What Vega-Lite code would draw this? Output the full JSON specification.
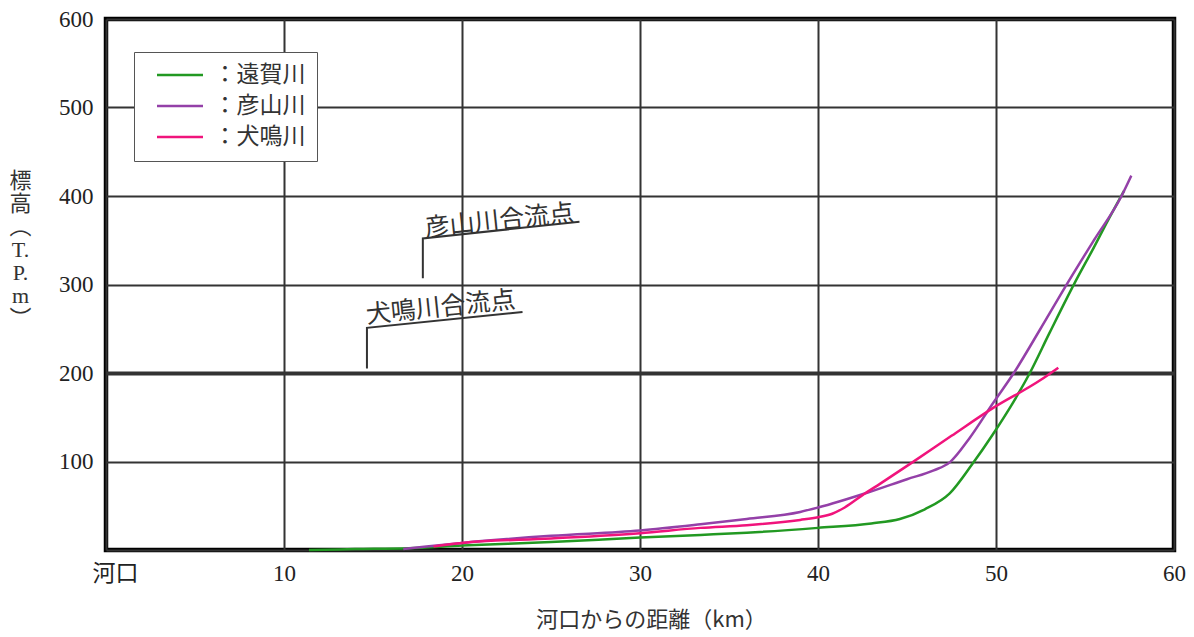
{
  "$schema": "https://vega.github.io/schema/vega-lite/v6.json",
  "width": 1068,
  "height": 531,
  "autosize": {"type": "none"},
  "padding": {"left": 106, "top": 19, "right": 20, "bottom": 87},
  "background": "white",
  "config": {
    "view": {"stroke": "black", "strokeWidth": 4.5},
    "font": "Liberation Serif, Noto Sans CJK JP"
  },
  "datasets": {
    "rivers": [
      {"river": "遠賀川", "km": 11.4, "elev": 0},
      {"river": "遠賀川", "km": 14, "elev": 1},
      {"river": "遠賀川", "km": 17, "elev": 2},
      {"river": "遠賀川", "km": 20, "elev": 5},
      {"river": "遠賀川", "km": 25, "elev": 9},
      {"river": "遠賀川", "km": 30, "elev": 14},
      {"river": "遠賀川", "km": 33.4, "elev": 17},
      {"river": "遠賀川", "km": 36, "elev": 19.5},
      {"river": "遠賀川", "km": 40, "elev": 25},
      {"river": "遠賀川", "km": 43, "elev": 30},
      {"river": "遠賀川", "km": 44.6, "elev": 35},
      {"river": "遠賀川", "km": 46, "elev": 46},
      {"river": "遠賀川", "km": 47.4, "elev": 64},
      {"river": "遠賀川", "km": 48.7, "elev": 98},
      {"river": "遠賀川", "km": 49.8, "elev": 130},
      {"river": "遠賀川", "km": 51, "elev": 168},
      {"river": "遠賀川", "km": 51.9, "elev": 200},
      {"river": "遠賀川", "km": 53, "elev": 245},
      {"river": "遠賀川", "km": 54.4, "elev": 301},
      {"river": "遠賀川", "km": 55.5, "elev": 342},
      {"river": "遠賀川", "km": 56.2, "elev": 369},
      {"river": "遠賀川", "km": 57.2, "elev": 406},
      {"river": "彦山川", "km": 16.7, "elev": 1},
      {"river": "彦山川", "km": 18, "elev": 4},
      {"river": "彦山川", "km": 20, "elev": 8},
      {"river": "彦山川", "km": 25, "elev": 16},
      {"river": "彦山川", "km": 30, "elev": 22},
      {"river": "彦山川", "km": 33.4, "elev": 29},
      {"river": "彦山川", "km": 36, "elev": 35},
      {"river": "彦山川", "km": 39, "elev": 43},
      {"river": "彦山川", "km": 40, "elev": 48},
      {"river": "彦山川", "km": 42.8, "elev": 65},
      {"river": "彦山川", "km": 45, "elev": 80},
      {"river": "彦山川", "km": 46.5, "elev": 90},
      {"river": "彦山川", "km": 47.4, "elev": 99},
      {"river": "彦山川", "km": 48.5, "elev": 126},
      {"river": "彦山川", "km": 49.8, "elev": 165},
      {"river": "彦山川", "km": 51, "elev": 200},
      {"river": "彦山川", "km": 52.5, "elev": 250},
      {"river": "彦山川", "km": 54, "elev": 301},
      {"river": "彦山川", "km": 55.5, "elev": 350},
      {"river": "彦山川", "km": 57, "elev": 398},
      {"river": "彦山川", "km": 57.6, "elev": 423},
      {"river": "犬鳴川", "km": 18.4, "elev": 4},
      {"river": "犬鳴川", "km": 20, "elev": 8},
      {"river": "犬鳴川", "km": 25, "elev": 13},
      {"river": "犬鳴川", "km": 30, "elev": 19},
      {"river": "犬鳴川", "km": 33.4, "elev": 25},
      {"river": "犬鳴川", "km": 36, "elev": 28},
      {"river": "犬鳴川", "km": 39, "elev": 34},
      {"river": "犬鳴川", "km": 40, "elev": 37},
      {"river": "犬鳴川", "km": 40.8, "elev": 41},
      {"river": "犬鳴川", "km": 41.5, "elev": 48},
      {"river": "犬鳴川", "km": 42.5, "elev": 62},
      {"river": "犬鳴川", "km": 43.5, "elev": 75},
      {"river": "犬鳴川", "km": 45.3, "elev": 99},
      {"river": "犬鳴川", "km": 47.5, "elev": 129},
      {"river": "犬鳴川", "km": 49.8, "elev": 160},
      {"river": "犬鳴川", "km": 52.5, "elev": 192},
      {"river": "犬鳴川", "km": 53.5, "elev": 206}
    ],
    "ann": [
      {"grp": "hiko", "seq": 1, "km": 17.8, "elev": 307},
      {"grp": "hiko", "seq": 2, "km": 17.8, "elev": 352},
      {"grp": "hiko", "seq": 3, "km": 26.6, "elev": 371},
      {"grp": "inu", "seq": 1, "km": 14.66, "elev": 205},
      {"grp": "inu", "seq": 2, "km": 14.66, "elev": 251},
      {"grp": "inu", "seq": 3, "km": 23.4, "elev": 269}
    ],
    "annText": [
      {"label": "彦山川合流点", "km": 22.1, "elev": 372},
      {"label": "犬鳴川合流点", "km": 18.8, "elev": 274}
    ]
  },
  "layer": [
    {
      "data": {"name": "ann"},
      "mark": {"type": "line", "color": "#333333", "strokeWidth": 2},
      "encoding": {
        "x": {"field": "km", "type": "quantitative"},
        "y": {"field": "elev", "type": "quantitative"},
        "detail": {"field": "grp"},
        "order": {"field": "seq"}
      }
    },
    {
      "data": {"name": "annText"},
      "mark": {"type": "text", "angle": 354, "fontSize": 25, "font": "Noto Sans CJK JP", "color": "#333333", "align": "center", "baseline": "middle"},
      "encoding": {
        "x": {"field": "km", "type": "quantitative"},
        "y": {"field": "elev", "type": "quantitative"},
        "text": {"field": "label"}
      }
    },
    {
      "data": {"name": "rivers"},
      "mark": {"type": "line", "interpolate": "monotone", "strokeWidth": 2.5},
      "encoding": {
        "x": {
          "field": "km", "type": "quantitative",
          "scale": {"domain": [0, 60], "nice": false},
          "axis": {
            "values": [0, 10, 20, 30, 40, 50, 60],
            "labelExpr": "datum.value == 0 ? '河口' : datum.label",
            "title": "河口からの距離（km）",
            "grid": true, "gridColor": "#333333", "gridWidth": 2,
            "ticks": false, "domain": false,
            "labelFontSize": 23, "labelColor": "#222222", "labelPadding": 12,
            "labelFlush": false,
            "labelOffset": {"condition": {"test": "datum.value == 0", "value": 9}, "value": 0},
            "titleFontSize": 22, "titleFontWeight": "normal", "titleColor": "#333333",
            "titleFont": "Noto Sans CJK JP", "titlePadding": 24, "titleX": 545
          }
        },
        "y": {
          "field": "elev", "type": "quantitative",
          "scale": {"domain": [0, 600], "nice": false},
          "axis": {
            "values": [0, 100, 200, 300, 400, 500, 600],
            "labelExpr": "datum.value == 0 ? '' : datum.label",
            "title": ["標", "高", "︵", "T.", "P.", "m", "︶"],
            "titleAngle": 0, "titleX": -86, "titleY": 151,
            "titleAlign": "center", "titleBaseline": "top",
            "titleLineHeight": 23, "titleFontSize": 22, "titleFontWeight": "normal",
            "titleColor": "#333333",
            "grid": true, "gridColor": "#333333",
            "gridWidth": {"condition": {"test": "datum.value == 200", "value": 4}, "value": 2},
            "ticks": false, "domain": false,
            "labelFontSize": 23, "labelColor": "#222222", "labelPadding": 13
          }
        },
        "color": {
          "field": "river", "type": "nominal",
          "scale": {"domain": ["遠賀川", "彦山川", "犬鳴川"], "range": ["#229922", "#9440a8", "#f0147c"]},
          "legend": {
            "orient": "none", "legendX": 28, "legendY": 33,
            "title": null,
            "fillColor": "white", "strokeColor": "#555555",
            "symbolType": "M0,0H4.6", "symbolSize": 400, "symbolStrokeWidth": 2.5,
            "labelExpr": "'：' + datum.label + '    '",
            "labelFont": "Noto Sans CJK JP", "labelFontSize": 23, "labelColor": "#333333",
            "labelOffset": 45, "rowPadding": 7, "padding": 11.5
          }
        }
      }
    }
  ]
}
